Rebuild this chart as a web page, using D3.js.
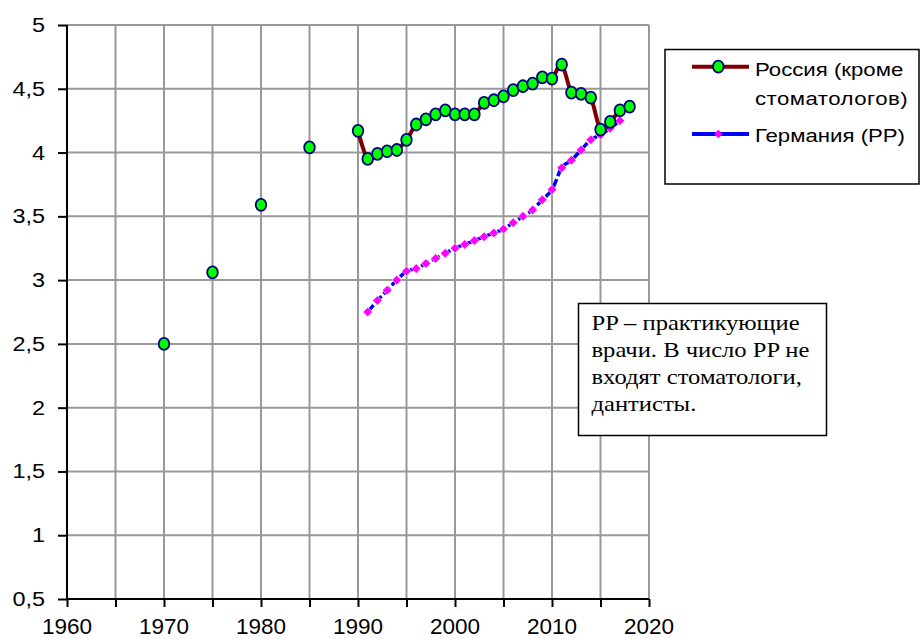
<!DOCTYPE html>
<html>
<head>
<meta charset="utf-8">
<script src="https://cdn.jsdelivr.net/npm/d3@7"></script>
<style>
  html, body { margin: 0; padding: 0; background: #fff; }
  svg { display: block; }
</style>
</head>
<body>
<svg id="chart" width="921" height="639"></svg>
<script>
// ---- Data ----
const russiaYears = [1970, 1975, 1980, 1985,
  1990, 1991, 1992, 1993, 1994, 1995, 1996, 1997, 1998, 1999,
  2000, 2001, 2002, 2003, 2004, 2005, 2006, 2007, 2008, 2009,
  2010, 2011, 2012, 2013, 2014, 2015, 2016, 2017, 2018];
const russiaValues = [2.50, 3.06, 3.59, 4.04,
  4.17, 3.95, 3.99, 4.01, 4.02, 4.10, 4.22, 4.26, 4.30, 4.33,
  4.30, 4.30, 4.30, 4.39, 4.41, 4.44, 4.49, 4.52, 4.54, 4.59,
  4.58, 4.69, 4.47, 4.46, 4.43, 4.18, 4.24, 4.33, 4.36];
const russiaLineStart = 1990;

const germanyYears = [1991, 1992, 1993, 1994, 1995, 1996, 1997, 1998, 1999,
  2000, 2001, 2002, 2003, 2004, 2005, 2006, 2007, 2008, 2009,
  2010, 2011, 2012, 2013, 2014, 2015, 2016, 2017];
const germanyValues = [2.75, 2.84, 2.92, 3.00, 3.07, 3.09, 3.13, 3.17, 3.21,
  3.25, 3.28, 3.31, 3.34, 3.37, 3.40, 3.45, 3.50, 3.55, 3.63,
  3.71, 3.88, 3.94, 4.02, 4.10, 4.14, 4.19, 4.25];

const seriesNames = ["Россия (кроме", "стоматологов)", "Германия (PP)"];
const xTickLabels = [1960, 1970, 1980, 1990, 2000, 2010, 2020];
const xGridValues = [1960, 1965, 1970, 1975, 1980, 1985, 1990, 1995, 2000, 2005, 2010, 2015, 2020];
const yTickValues = [0.5, 1, 1.5, 2, 2.5, 3, 3.5, 4, 4.5, 5];
const noteLines = ["PP – практикующие", "врачи. В число PP не", "входят стоматологи,", "дантисты."];

// ---- Layout ----
const svg = d3.select("#chart");
const X0 = 67, X1 = 649, Y0 = 599, Y1 = 25;
const SX = 1.2; // horizontal text stretch of original
const x = d3.scaleLinear().domain([1960, 2020]).range([X0, X1]);
const y = d3.scaleLinear().domain([0.5, 5]).range([Y0, Y1]);
const sans = "'Liberation Sans', Arial, sans-serif";
const serif = "'Liberation Serif', 'Times New Roman', serif";
const gridColor = "#999999";

// Grid
const grid = svg.append("g");
grid.selectAll("line.v").data(xGridValues.filter(d => d > 1960)).join("line")
  .attr("x1", d => x(d)).attr("x2", d => x(d))
  .attr("y1", Y1).attr("y2", Y0)
  .attr("stroke", gridColor).attr("stroke-width", 2);
grid.selectAll("line.h").data(yTickValues.filter(d => d > 0.5)).join("line")
  .attr("x1", X0).attr("x2", X1)
  .attr("y1", d => y(d)).attr("y2", d => y(d))
  .attr("stroke", gridColor).attr("stroke-width", 2);

// Axes
const xAxis = d3.axisBottom(x).tickValues(xGridValues).tickSize(8).tickFormat("");
const gx = svg.append("g").attr("transform", `translate(0,${Y0})`).call(xAxis);
gx.select(".domain").attr("stroke", "#000").attr("stroke-width", 2).attr("d", `M${X0},0H${X1}`);
gx.selectAll(".tick line").attr("stroke", "#000").attr("stroke-width", 2);

const yAxis = d3.axisLeft(y).tickValues(yTickValues).tickSize(9).tickFormat("");
const gy = svg.append("g").attr("transform", `translate(${X0},0)`).call(yAxis);
gy.select(".domain").attr("stroke", "#000").attr("stroke-width", 2).attr("d", `M0,${Y1}V${Y0}`);
gy.selectAll(".tick line").attr("stroke", "#000").attr("stroke-width", 2);

// X labels
svg.append("g").selectAll("text").data(xTickLabels).join("text")
  .attr("x", d => x(d)).attr("y", 634)
  .attr("text-anchor", "middle")
  .attr("font-family", sans).attr("font-size", 22.5).attr("fill", "#000")
  .text(d => d);

// Y labels (comma decimal)
const fmtY = d => String(d).replace(".", ",");
svg.append("g").selectAll("g").data(yTickValues).join("g")
  .attr("transform", d => `translate(45,${y(d)}) scale(${SX},1)`)
  .append("text")
  .attr("text-anchor", "end").attr("dy", "0.36em")
  .attr("font-family", sans).attr("font-size", 19.5).attr("fill", "#000")
  .text(fmtY);

// Germany series
const germany = germanyYears.map((yr, i) => ({ yr, v: germanyValues[i] }));
const lineG = d3.line().x(d => x(d.yr)).y(d => y(d.v)).curve(d3.curveCardinal.tension(0));
svg.append("path").datum(germany)
  .attr("d", lineG).attr("fill", "none")
  .attr("stroke", "#0000ff").attr("stroke-width", 3.5)
  .attr("stroke-dasharray", "9,3");
const diamond = d3.symbol().type(d3.symbolDiamond2).size(58);
svg.append("g").selectAll("path").data(germany).join("path")
  .attr("d", diamond)
  .attr("transform", d => `translate(${x(d.yr)},${y(d.v)})`)
  .attr("fill", "#ff00ff").attr("stroke", "#ffffff").attr("stroke-width", 0.6);

// Russia series
const russia = russiaYears.map((yr, i) => ({ yr, v: russiaValues[i] }));
const lineR = d3.line().x(d => x(d.yr)).y(d => y(d.v)).curve(d3.curveCardinal.tension(0));
svg.append("path").datum(russia.filter(d => d.yr >= russiaLineStart))
  .attr("d", lineR).attr("fill", "none")
  .attr("stroke", "#800000").attr("stroke-width", 4);
svg.append("g").selectAll("ellipse").data(russia).join("ellipse")
  .attr("cx", d => x(d.yr)).attr("cy", d => y(d.v))
  .attr("rx", 5.3).attr("ry", 6)
  .attr("fill", "#00ff00").attr("stroke", "#000080").attr("stroke-width", 1.8);

// Legend
const lg = svg.append("g");
lg.append("rect").attr("x", 665).attr("y", 49.5).attr("width", 254).attr("height", 134.5)
  .attr("fill", "#fff").attr("stroke", "#000").attr("stroke-width", 1.5);
lg.append("line").attr("x1", 692).attr("x2", 749).attr("y1", 66.7).attr("y2", 66.7)
  .attr("stroke", "#800000").attr("stroke-width", 4);
lg.append("ellipse").attr("cx", 718.3).attr("cy", 66.7).attr("rx", 5.3).attr("ry", 6)
  .attr("fill", "#00ff00").attr("stroke", "#000080").attr("stroke-width", 1.8);
lg.append("line").attr("x1", 692).attr("x2", 749).attr("y1", 134).attr("y2", 134)
  .attr("stroke", "#0000ff").attr("stroke-width", 4);
lg.append("path").attr("d", d3.symbol().type(d3.symbolDiamond2).size(45)).attr("transform", "translate(718.3,134)")
  .attr("fill", "#ff00ff");
const legendBaselines = [76, 105, 142];
lg.selectAll("g.t").data(seriesNames).join("g")
  .attr("transform", (d, i) => `translate(755,${legendBaselines[i]}) scale(${SX},1)`)
  .append("text")
  .attr("font-family", sans).attr("font-size", 18.5).attr("fill", "#000")
  .attr("letter-spacing", (d, i) => i === 1 ? 0.4 : 0)
  .text(d => d);

// Note box
const nb = svg.append("g");
nb.append("rect").attr("x", 578.5).attr("y", 303.5).attr("width", 248).attr("height", 132)
  .attr("fill", "#fff").attr("stroke", "#000").attr("stroke-width", 1.5);
nb.selectAll("g.t").data(noteLines).join("g")
  .attr("transform", (d, i) => `translate(591.5,${329.5 + i * 27.3}) scale(${SX},1)`)
  .append("text")
  .attr("font-family", serif).attr("font-size", 20.5).attr("fill", "#000")
  .text(d => d);
</script>
</body>
</html>
